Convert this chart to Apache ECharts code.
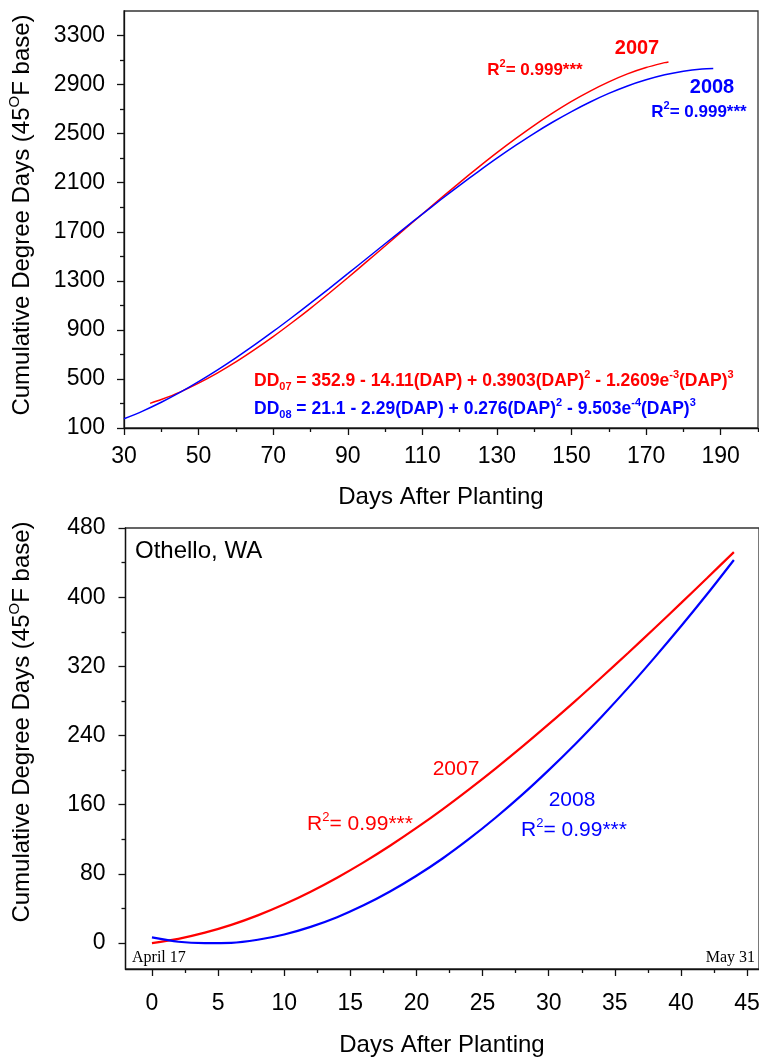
<!DOCTYPE html>
<html>
<head>
<meta charset="utf-8">
<script src="https://cdn.jsdelivr.net/npm/echarts@6/dist/echarts.min.js"></script>
<style>
  html, body { margin: 0; padding: 0; background: #fff; }
  #chart { width: 759px; height: 1059px; }
</style>
</head>
<body>
<div id="chart"></div>
<script>
// ---- Top panel: cumulative degree days by days after planting (DAP) ----
const days2007 = [37, 40, 45, 50, 55, 60, 65, 70, 75, 80, 85, 90, 95, 100, 105, 110, 115, 120, 125, 130, 135, 140, 145, 150, 155, 160, 165, 170, 175, 176];
const dd2007   = [301, 332, 393, 466, 548, 639, 739, 845, 958, 1076, 1199, 1325, 1454, 1584, 1715, 1845, 1974, 2101, 2225, 2345, 2459, 2568, 2669, 2763, 2847, 2922, 2987, 3039, 3079, 3085];
const days2008 = [30, 35, 40, 45, 50, 55, 60, 65, 70, 75, 80, 85, 90, 95, 100, 105, 110, 115, 120, 125, 130, 135, 140, 145, 150, 155, 160, 165, 170, 175, 180, 185, 188];
const dd2008   = [175, 238, 310, 390, 478, 572, 672, 777, 887, 1001, 1118, 1237, 1358, 1480, 1602, 1724, 1844, 1963, 2079, 2191, 2300, 2404, 2503, 2595, 2680, 2758, 2828, 2889, 2939, 2980, 3009, 3027, 3031];

// ---- Bottom panel: Othello, WA (April 17 - May 31) ----
const othelloDays = [0, 2, 4, 6, 8, 10, 12, 14, 16, 18, 20, 22, 24, 26, 28, 30, 32, 34, 36, 38, 40, 42, 44];
const othello2007 = [0, 4.9, 12.0, 21.0, 32.0, 44.8, 59.4, 75.6, 93.3, 112.5, 133.1, 154.9, 178.0, 202.1, 227.1, 253.1, 279.8, 307.4, 335.4, 364.1, 393.1, 422.5, 452.1];
const othello2008 = [6.5, 1.5, 0, 0.3, 3.8, 9.9, 18.7, 29.9, 43.6, 59.6, 77.8, 98.1, 120.7, 145.2, 171.6, 200, 230, 261.8, 295.1, 330.1, 366.3, 403.9, 443];

// ---- Tick values ----
const topXMajor = [30, 50, 70, 90, 110, 130, 150, 170, 190];
const topXMinor = [40, 60, 80, 100, 120, 140, 160, 180, 200];
const topYMajor = [100, 500, 900, 1300, 1700, 2100, 2500, 2900, 3300];
const topYMinor = [300, 700, 1100, 1500, 1900, 2300, 2700, 3100];
const botXMajor = [0, 5, 10, 15, 20, 25, 30, 35, 40, 45];
const botXMinor = [2.5, 7.5, 12.5, 17.5, 22.5, 27.5, 32.5, 37.5, 42.5];
const botYMajor = [0, 80, 160, 240, 320, 400, 480];
const botYMinor = [40, 120, 200, 280, 360, 440];

const RED = '#ff0000';
const BLUE = '#0000ff';
const SANS = '"Liberation Sans", Arial, sans-serif';
const SERIF = '"Liberation Serif", "Times New Roman", serif';

function pairs(xs, ys) { return xs.map((x, i) => [x, ys[i]]); }

function majorAxis(grid, min, max, ticks, margin, extra) {
  return Object.assign({
    type: 'value', gridIndex: grid, min: min, max: max,
    axisLine: { show: true, onZero: false, lineStyle: { color: '#111', width: 1.3 } },
    axisTick: { show: true, inside: false, length: 7, customValues: ticks, lineStyle: { color: '#111', width: 1.3 } },
    axisLabel: { show: true, customValues: ticks, margin: margin, color: '#000', fontSize: 23, fontFamily: SANS,
                 formatter: v => String(v) },
    splitLine: { show: false }
  }, extra);
}
function minorAxis(grid, min, max, ticks, extra) {
  return Object.assign({
    type: 'value', gridIndex: grid, min: min, max: max,
    axisLine: { show: false, onZero: false },
    axisTick: { show: true, inside: false, length: 4, customValues: ticks, lineStyle: { color: '#111', width: 1.3 } },
    axisLabel: { show: false },
    splitLine: { show: false }
  }, extra);
}

// rich-text styles for sub/superscripts
function richSet(size, weight, color) {
  const small = Math.round(size * 0.62);
  return {
    t:   { fontSize: size, fontWeight: weight, fontFamily: SANS, fill: color, lineHeight: size + 6 },
    sup: { fontSize: small, fontWeight: weight, fontFamily: SANS, fill: color, lineHeight: small, verticalAlign: 'top' },
    sub: { fontSize: small, fontWeight: weight, fontFamily: SANS, fill: color, lineHeight: small, verticalAlign: 'bottom' }
  };
}
function label(x, y, text, rich, align, extra) {
  return Object.assign({
    type: 'text', x: x, y: y, z: 100,
    style: { text: text, rich: rich, align: align || 'center', verticalAlign: 'middle', textAlign: align || 'center', textVerticalAlign: 'middle' }
  }, extra || {});
}

const yTitle = '{t|Cumulative Degree Days (45}{sup|O}{t|F base)}';
const xTitle = '{t|Days After Planting}';

const chart = echarts.init(document.getElementById('chart'), null, { renderer: 'canvas' });
chart.setOption({
  animation: false,
  backgroundColor: '#fff',
  grid: [
    { left: 124, top: 11, width: 634, height: 417, show: true, borderColor: '#333', borderWidth: 1.3,
      backgroundColor: 'transparent', containLabel: false, outerBoundsMode: 'none' },
    { left: 125.5, top: 528, width: 633.5, height: 441, show: true, borderColor: '#333', borderWidth: 1.3,
      backgroundColor: 'transparent', containLabel: false, outerBoundsMode: 'none' }
  ],
  xAxis: [
    majorAxis(0, 30, 200, topXMajor, 17, { position: 'bottom' }),
    minorAxis(0, 30, 200, topXMinor, { position: 'bottom' }),
    majorAxis(1, -2, 45.9, botXMajor, 23, { position: 'bottom' }),
    minorAxis(1, -2, 45.9, botXMinor, { position: 'bottom' })
  ],
  yAxis: [
    majorAxis(0, 100, 3500, topYMajor, 19, { position: 'left' }),
    minorAxis(0, 100, 3500, topYMinor, { position: 'left' }),
    majorAxis(1, -30, 480, botYMajor, 20, { position: 'left' }),
    minorAxis(1, -30, 480, botYMinor, { position: 'left' })
  ],
  series: [
    { name: '2007', type: 'line', xAxisIndex: 0, yAxisIndex: 0, data: pairs(days2007, dd2007),
      showSymbol: false, symbol: 'none', smooth: 0.3, lineStyle: { color: RED, width: 1.5 }, itemStyle: { color: RED } },
    { name: '2008', type: 'line', xAxisIndex: 0, yAxisIndex: 0, data: pairs(days2008, dd2008),
      showSymbol: false, symbol: 'none', smooth: 0.3, lineStyle: { color: BLUE, width: 1.5 }, itemStyle: { color: BLUE } },
    { name: 'Othello 2007', type: 'line', xAxisIndex: 2, yAxisIndex: 2, data: pairs(othelloDays, othello2007),
      showSymbol: false, symbol: 'none', smooth: 0.3, lineStyle: { color: RED, width: 2.2 }, itemStyle: { color: RED } },
    { name: 'Othello 2008', type: 'line', xAxisIndex: 2, yAxisIndex: 2, data: pairs(othelloDays, othello2008),
      showSymbol: false, symbol: 'none', smooth: 0.3, lineStyle: { color: BLUE, width: 2.2 }, itemStyle: { color: BLUE } }
  ],
  graphic: [
    // axis titles
    label(22, 215, yTitle, richSet(24, 'normal', '#000'), 'center', { rotation: Math.PI / 2 }),
    label(441, 497, xTitle, richSet(24, 'normal', '#000')),
    label(22, 722, yTitle, richSet(24, 'normal', '#000'), 'center', { rotation: Math.PI / 2 }),
    label(442, 1045, xTitle, richSet(24, 'normal', '#000')),

    // top panel annotations
    label(637, 48, '{t|2007}', richSet(20, 'bold', RED)),
    label(535, 70, '{t|R}{sup|2}{t|= 0.999***}', richSet(17, 'bold', RED)),
    label(712, 87, '{t|2008}', richSet(20, 'bold', BLUE)),
    label(699, 112, '{t|R}{sup|2}{t|= 0.999***}', richSet(17, 'bold', BLUE)),
    label(254, 381, '{t|DD}{sub|07}{t| = 352.9 - 14.11(DAP) + 0.3903(DAP)}{sup|2}{t| - 1.2609e}{sup|-3}{t|(DAP)}{sup|3}', richSet(17.5, 'bold', RED), 'left'),
    label(254, 409, '{t|DD}{sub|08}{t| = 21.1 - 2.29(DAP) + 0.276(DAP)}{sup|2}{t| - 9.503e}{sup|-4}{t|(DAP)}{sup|3}', richSet(17.5, 'bold', BLUE), 'left'),

    // bottom panel annotations
    label(135, 551, '{t|Othello, WA}', richSet(24, 'normal', '#000'), 'left'),
    label(456, 769, '{t|2007}', richSet(21, 'normal', RED)),
    label(360, 824, '{t|R}{sup|2}{t|= 0.99***}', richSet(21, 'normal', RED)),
    label(572, 800, '{t|2008}', richSet(21, 'normal', BLUE)),
    label(574, 830, '{t|R}{sup|2}{t|= 0.99***}', richSet(21, 'normal', BLUE)),
    { type: 'text', x: 132, y: 958, z: 100, style: { text: 'April 17', font: '16px ' + SERIF, fill: '#000', align: 'left', verticalAlign: 'middle', textAlign: 'left', textVerticalAlign: 'middle' } },
    { type: 'text', x: 755, y: 958, z: 100, style: { text: 'May 31', font: '16px ' + SERIF, fill: '#000', align: 'right', verticalAlign: 'middle', textAlign: 'right', textVerticalAlign: 'middle' } }
  ]
});
</script>
</body>
</html>
